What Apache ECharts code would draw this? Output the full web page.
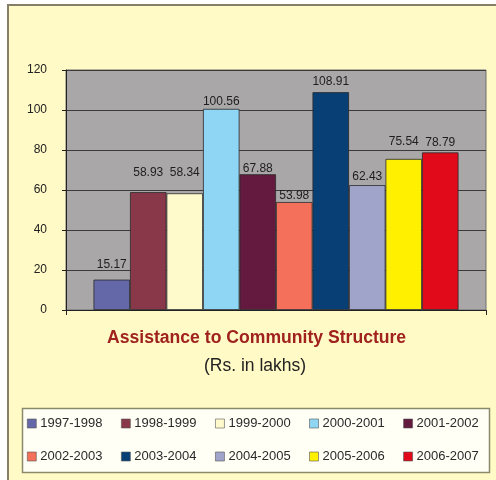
<!DOCTYPE html>
<html>
<head>
<meta charset="utf-8">
<script src="https://cdn.jsdelivr.net/npm/echarts@6/dist/echarts.min.js"></script>
<style>
html,body{margin:0;padding:0;background:#ffffff;}
#chart{width:496px;height:480px;}
</style>
</head>
<body>
<div id="chart"></div>
<script>
// ---- data ----
const seriesNames = ['1997-1998','1998-1999','1999-2000','2000-2001','2001-2002','2002-2003','2003-2004','2004-2005','2005-2006','2006-2007'];
const seriesValues = [15.17, 58.93, 58.34, 100.56, 67.88, 53.98, 108.91, 62.43, 75.54, 78.79];
const yTicks = [0, 20, 40, 60, 80, 100, 120];
const titleText = 'Assistance to Community Structure';
const subtitleText = '(Rs. in lakhs)';

// ---- style ----
const barColors = ['#6568A8','#883848','#FFFACC','#8FD6F5','#631A3E','#F5705A','#083F75','#A0A4CA','#FFF000','#E00A1A'];
const labelLift = [9, 13, 15, 1, 0, 0, 4, 2, 11, 4];
const FONT = 'Liberation Sans, Arial, sans-serif';

const chart = echarts.init(document.getElementById('chart'), null, {renderer: 'canvas'});

const series = seriesNames.map((name, i) => ({
  name: name,
  type: 'bar',
  data: [seriesValues[i]],
  barWidth: 36.5,
  barGap: '0%',
  itemStyle: { color: barColors[i], borderColor: '#2a2a2a', borderWidth: 0.8 },
  label: {
    show: true, position: 'top', distance: labelLift[i],
    fontSize: 12, color: '#1e1e1e', fontFamily: FONT,
    formatter: p => p.value.toFixed(2)
  },
  emphasis: { disabled: true }
}));

const legendRow = (names, top) => ({
  data: names,
  left: 27, top: top,
  padding: 0,
  orient: 'horizontal',
  itemWidth: 9, itemHeight: 9,
  itemGap: 18.6,
  icon: 'rect',
  textStyle: { fontSize: 13, color: '#2a2a2a', fontFamily: FONT, padding: [0,0,0,-1] },
  itemStyle: { borderColor: '#555', borderWidth: 0.6 },
  selectedMode: false
});

chart.setOption({
  animation: false,
  backgroundColor: '#ffffff',
  textStyle: { fontFamily: FONT },
  graphic: [
    { type: 'rect', z: -10, shape: { x: 8, y: 5, width: 488, height: 475 },
      style: { fill: '#FFFAC6' } },
    { type: 'line', z: -9, shape: { x1: 8, y1: 5, x2: 496, y2: 5 },
      style: { stroke: '#857F6A', lineWidth: 2 } },
    { type: 'line', z: -9, shape: { x1: 8, y1: 4, x2: 8, y2: 480 },
      style: { stroke: '#857F6A', lineWidth: 2 } },
    { type: 'rect', z: -5, shape: { x: 22.5, y: 408.5, width: 467, height: 64 },
      style: { fill: '#FFFFF6', stroke: '#8A8A6A', lineWidth: 1.5 } },
    { type: 'text', left: 107, top: 329, z: 10,
      style: { text: titleText, fill: '#A0221F', font: 'bold 17.6px ' + FONT } },
    { type: 'text', left: 204, top: 357, z: 10,
      style: { text: subtitleText, fill: '#222', font: '17.5px ' + FONT } }
  ],
  legend: [
    legendRow(seriesNames.slice(0, 5), 417),
    legendRow(seriesNames.slice(5), 450)
  ],
  grid: {
    left: 66, right: 10, top: 70, bottom: 170,
    show: true, backgroundColor: '#A9A7A8', borderColor: '#6e6e6e', borderWidth: 1,
    containLabel: false
  },
  xAxis: {
    type: 'category', data: [''],
    axisLine: { show: true, lineStyle: { color: '#222', width: 1 } },
    axisTick: { show: true, alignWithLabel: false, length: 5, lineStyle: { color: '#222' } },
    axisLabel: { show: false },
    splitLine: { show: false }
  },
  yAxis: {
    type: 'value', min: yTicks[0], max: yTicks[yTicks.length - 1], interval: 20,
    axisLine: { show: true, lineStyle: { color: '#222', width: 1 } },
    axisTick: { show: true, length: 4, lineStyle: { color: '#222' } },
    axisLabel: { fontSize: 12, color: '#222', margin: 19, fontFamily: FONT },
    splitLine: { show: true, lineStyle: { color: '#3a3a3a', width: 1 } }
  },
  series: series
});
</script>
</body>
</html>
